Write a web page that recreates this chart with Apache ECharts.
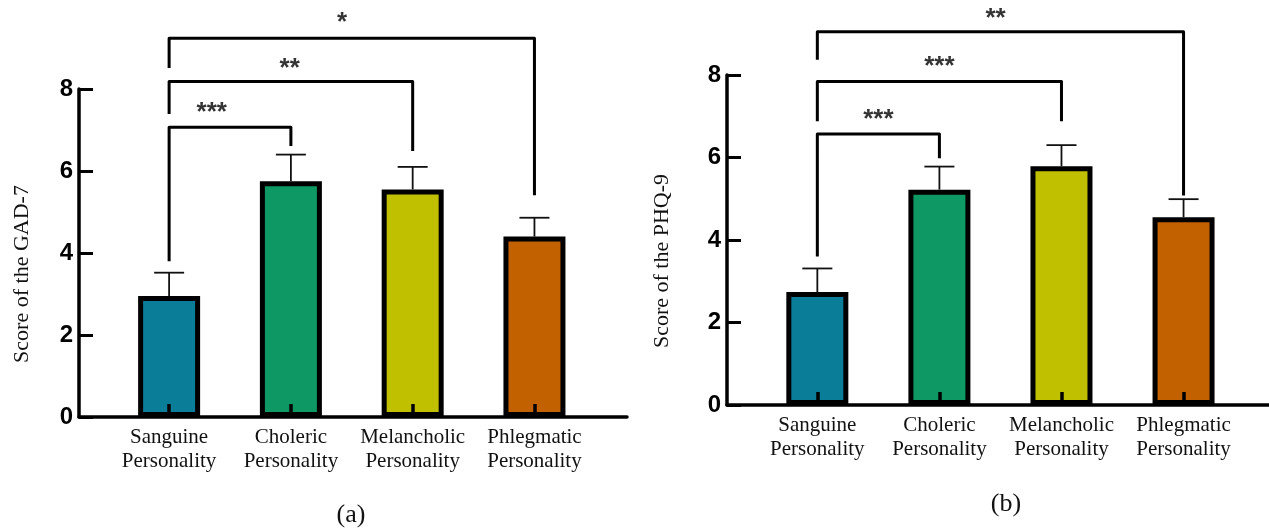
<!DOCTYPE html>
<html>
<head>
<meta charset="utf-8">
<script src="https://cdn.jsdelivr.net/npm/echarts@6/dist/echarts.min.js"></script>
<style>
html,body{margin:0;padding:0;background:#fff;}
#chart{width:1269px;height:528px;}
</style>
</head>
<body>
<div id="chart"></div>
<script>
const categories = ['Sanguine\nPersonality', 'Choleric\nPersonality', 'Melancholic\nPersonality', 'Phlegmatic\nPersonality'];
const categoryPositions = [0, 1, 2, 3];
const yTicks = [0, 2, 4, 6, 8];
const barColors = ['#0a7e98', '#0e9964', '#c0c000', '#c26100'];

const gadMeans = [2.95, 5.75, 5.55, 4.40];
const gadUpper = [3.52, 6.40, 6.10, 4.86];
const phqMeans = [2.74, 5.22, 5.79, 4.55];
const phqUpper = [3.31, 5.78, 6.30, 4.99];

// brackets: [fromIndex, toIndex, topY, leftEndY, rightEndY]
const gadBrackets = [[0, 1, 7.07, 3.80, 6.61], [0, 2, 8.18, 7.39, 6.49], [0, 3, 9.24, 8.51, 5.41]];
const gadStars = ['***', '**', '*'];
const gadStarPos = [[0.35, 7.43], [0.99, 8.48], [1.42, 9.62]];
const phqBrackets = [[0, 1, 6.57, 3.60, 5.98], [0, 2, 7.84, 6.88, 6.88], [0, 3, 9.05, 8.37, 5.08]];
const phqStars = ['***', '***', '**'];
const phqStarPos = [[0.50, 6.91], [1.00, 8.20], [1.46, 9.35]];

const serif = 'Liberation Serif';
const sans = 'Liberation Sans';

function xAxisCfg(gi, max) {
  return {
    gridIndex: gi, type: 'value', min: -0.74, max: max, z: 5,
    axisLine: {show: true, onZero: false, lineStyle: {color: '#000', width: 3.5}},
    axisTick: {show: true, inside: true, length: 13, customValues: categoryPositions, lineStyle: {color: '#000', width: 3.5}},
    axisLabel: {show: true, customValues: categoryPositions, margin: 8, color: '#111',
      fontFamily: serif, fontSize: 21, lineHeight: 24,
      formatter: v => categories[Math.round(v)]},
    splitLine: {show: false}
  };
}
function yAxisCfg(gi, name, gap) {
  return {
    gridIndex: gi, type: 'value', min: 0, max: 8, interval: 2, z: 5,
    name: name, nameLocation: 'middle', nameGap: gap, nameRotate: 90,
    nameTextStyle: {fontFamily: serif, fontSize: 22, color: '#111', padding: [0, 42, 0, 0]},
    axisLine: {show: true, onZero: false, lineStyle: {color: '#000', width: 3.5}},
    axisTick: {show: true, inside: true, length: 14, lineStyle: {color: '#000', width: 3}},
    axisLabel: {margin: 6, color: '#000', fontFamily: sans, fontWeight: 'bold', fontSize: 24,
      formatter: v => String(v)},
    splitLine: {show: false}
  };
}
function barSeries(gi, means) {
  return {
    type: 'bar', xAxisIndex: gi, yAxisIndex: gi, barWidth: 62, z: 2,
    data: means.map((m, i) => ({value: [categoryPositions[i], m], itemStyle: {color: barColors[i]}})),
    itemStyle: {borderColor: '#000', borderWidth: 5},
    emphasis: {disabled: true}, animation: false
  };
}
function errSeries(gi, means, upper) {
  return {
    type: 'custom', xAxisIndex: gi, yAxisIndex: gi, z: 3, animation: false,
    encode: {x: 0, y: [1, 2]},
    data: means.map((m, i) => [categoryPositions[i], m, upper[i]]),
    renderItem: function (params, api) {
      const b = api.coord([api.value(0), api.value(1)]);
      const t = api.coord([api.value(0), api.value(2)]);
      return {type: 'group', children: [
        {type: 'line', shape: {x1: b[0], y1: b[1], x2: t[0], y2: t[1]}, style: {stroke: '#111', lineWidth: 1.8}},
        {type: 'line', shape: {x1: t[0] - 15, y1: t[1], x2: t[0] + 15, y2: t[1]}, style: {stroke: '#111', lineWidth: 1.8}}
      ]};
    }
  };
}
function bracketSeries(gi, brackets) {
  return {
    type: 'custom', xAxisIndex: gi, yAxisIndex: gi, z: 4, clip: false, animation: false,
    encode: {x: [0, 1], y: [2, 3, 4]},
    data: brackets,
    renderItem: function (params, api) {
      const x1 = api.value(0), x2 = api.value(1), yt = api.value(2);
      const pts = [api.coord([x1, api.value(3)]), api.coord([x1, yt]), api.coord([x2, yt]), api.coord([x2, api.value(4)])];
      return {type: 'polyline', shape: {points: pts}, style: {stroke: '#000', lineWidth: 3, fill: null, lineJoin: 'round'}};
    }
  };
}
function starSeries(gi, pos, stars) {
  return {
    type: 'scatter', xAxisIndex: gi, yAxisIndex: gi, symbolSize: 0, z: 6, clip: false, animation: false,
    data: pos,
    label: {show: true, position: 'inside', formatter: p => stars[p.dataIndex],
      fontFamily: sans, fontSize: 26, fontWeight: 'bold', color: '#000'}
  };
}

const chart = echarts.init(document.getElementById('chart'), null, {renderer: 'canvas'});
chart.setOption({
  backgroundColor: '#fff',
  animation: false,
  title: [
    {text: '(a)', left: 346, top: 497, textAlign: 'center', textStyle: {fontFamily: serif, fontSize: 26, fontWeight: 'normal', color: '#111'}},
    {text: '(b)', left: 1001, top: 486, textAlign: 'center', textStyle: {fontFamily: serif, fontSize: 26, fontWeight: 'normal', color: '#111'}}
  ],
  grid: [
    {left: 79, top: 89, width: 548, height: 328},
    {left: 727, top: 75, width: 542, height: 330}
  ],
  xAxis: [xAxisCfg(0, 3.76), xAxisCfg(1, 3.70)],
  yAxis: [yAxisCfg(0, 'Score of the GAD-7', 46), yAxisCfg(1, 'Score of the PHQ-9', 54)],
  series: [
    barSeries(0, gadMeans), errSeries(0, gadMeans, gadUpper), bracketSeries(0, gadBrackets), starSeries(0, gadStarPos, gadStars),
    barSeries(1, phqMeans), errSeries(1, phqMeans, phqUpper), bracketSeries(1, phqBrackets), starSeries(1, phqStarPos, phqStars)
  ]
});
</script>
</body>
</html>
